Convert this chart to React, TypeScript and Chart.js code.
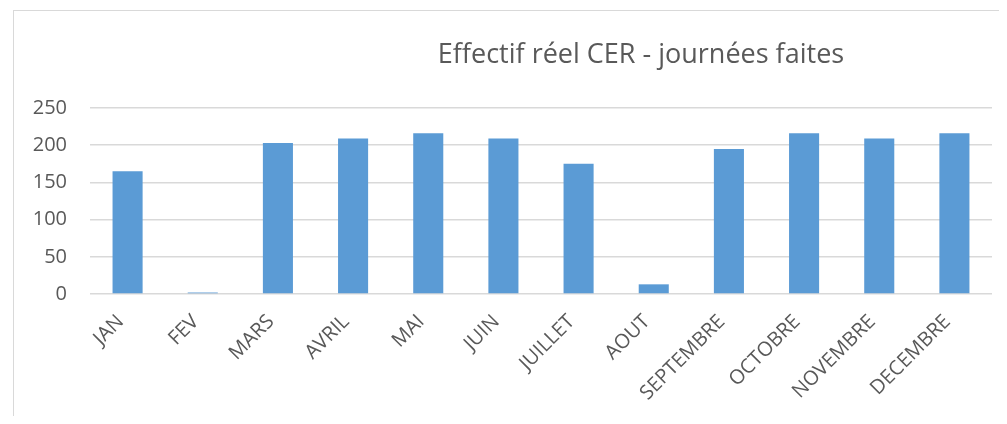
import React, { useEffect, useRef } from "react";
import { Chart, registerables } from "chart.js";

Chart.register(...registerables);

const TITLE = "Effectif réel CER - journées faites";
const MONTHS = [
  "JAN",
  "FEV",
  "MARS",
  "AVRIL",
  "MAI",
  "JUIN",
  "JUILLET",
  "AOUT",
  "SEPTEMBRE",
  "OCTOBRE",
  "NOVEMBRE",
  "DECEMBRE",
];
const VALUES = [165, 2, 203, 209, 216, 209, 175, 13, 195, 216, 209, 216];
const Y_TICKS = [0, 50, 100, 150, 200, 250];

const TEXT_COLOR = "#595959";
const BAR_COLOR = "#5B9BD5";
const GRID_COLOR = "#d9d9d9";
const FONT = "'Open Sans', sans-serif";

const titlePlugin = {
  id: "offsetTitle",
  afterDraw(chart: any) {
    const ctx = chart.ctx;
    ctx.save();
    ctx.font = `400 27px ${FONT}`;
    ctx.fillStyle = TEXT_COLOR;
    ctx.textAlign = "center";
    ctx.textBaseline = "alphabetic";
    ctx.fillText(TITLE, 633, 55);
    ctx.restore();
  },
};

export default function App() {
  const ref = useRef<HTMLCanvasElement | null>(null);

  useEffect(() => {
    if (!ref.current) return;
    Chart.defaults.font.family = FONT;
    const chart = new Chart(ref.current, {
      type: "bar",
      data: {
        labels: MONTHS,
        datasets: [
          {
            data: VALUES,
            backgroundColor: BAR_COLOR,
            borderWidth: 0,
            categoryPercentage: 1,
            barPercentage: 0.4,
          },
        ],
      },
      options: {
        animation: false,
        responsive: false,
        events: [],
        layout: { padding: { top: 100, right: 7, left: 0, bottom: 0 } },
        plugins: {
          legend: { display: false },
          tooltip: { enabled: false },
          title: { display: false },
        },
        scales: {
          x: {
            grid: { display: false },
            border: { display: false },
            ticks: {
              minRotation: 45,
              maxRotation: 45,
              autoSkip: false,
              color: TEXT_COLOR,
              font: { size: 20, family: FONT },
              padding: 8,
              labelOffset: -7,
            },
            afterFit: (s: any) => {
              s.height = 130;
            },
          },
          y: {
            min: 0,
            max: 250,
            grid: { color: GRID_COLOR, lineWidth: 1.5, drawTicks: false },
            border: { display: false },
            ticks: {
              color: TEXT_COLOR,
              font: { size: 20, family: FONT },
              padding: 23,
            },
            afterBuildTicks: (s: any) => {
              s.ticks = Y_TICKS.map((v) => ({ value: v }));
            },
            afterFit: (s: any) => {
              s.width = 82;
            },
          },
        },
      },
      plugins: [titlePlugin],
    });
    return () => chart.destroy();
  }, []);

  return (
    <div
      style={{
        position: "relative",
        width: 991,
        height: 416,
        marginBottom: -8,
        overflow: "hidden",
      }}
    >
      <div
        style={{
          position: "absolute",
          left: 5,
          top: 2,
          width: 1200,
          height: 600,
          border: "1px solid #d9d9d9",
        }}
      />
      <canvas
        ref={ref}
        width={991}
        height={416}
        style={{ position: "absolute", left: 0, top: 0 }}
      />
    </div>
  );
}
